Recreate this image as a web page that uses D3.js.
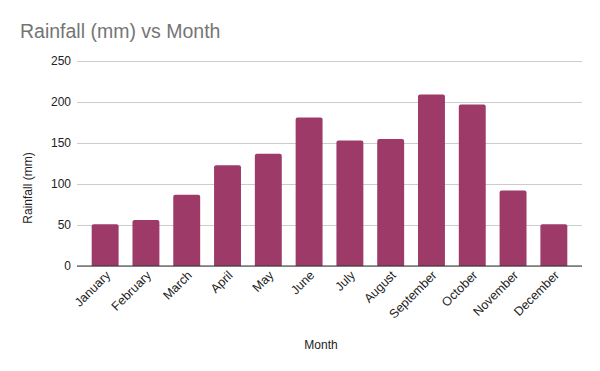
<!DOCTYPE html>
<html lang="en">
<head>
    <meta charset="UTF-8">
    <title>Rainfall (mm) vs Month</title>
    <script src="https://d3js.org/d3.v7.min.js"></script>
    <style>
        html, body {
            margin: 0;
            background: #fff;
            font-family: "Liberation Sans", Arial, sans-serif;
        }
        svg text {
            font-family: "Liberation Sans", Arial, sans-serif;
        }
    </style>
</head>
<body>
    <div id="vis"></div>
    <script>
        // chart data
        var months = ["January", "February", "March", "April", "May", "June",
                      "July", "August", "September", "October", "November", "December"];
        var rainfall = [51, 56, 87, 123, 137, 181, 153, 155, 209, 197, 92, 51];
        var yTicks = [0, 50, 100, 150, 200, 250];

        var width = 600, height = 371;
        var margin = {top: 61, right: 18, bottom: 105, left: 77};

        var svg = d3.select('#vis')
            .append('svg')
                .attr('width', width)
                .attr('height', height);

        var x = d3.scaleBand()
            .domain(months)
            .range([margin.left, width - margin.right])
            .paddingInner(0.34)
            .paddingOuter(0.36);

        var y = d3.scaleLinear()
            .domain([0, 250])
            .range([height - margin.bottom, margin.top]);

        // title
        svg.append('text')
            .attr('x', 20)
            .attr('y', 38)
            .attr('fill', '#757575')
            .style('font-size', '19.5px')
            .text('Rainfall (mm) vs Month');

        // gridlines + y labels
        var yAxis = svg.append('g')
            .attr('transform', 'translate(' + margin.left + ',0)')
            .call(d3.axisLeft(y).tickValues(yTicks).tickSize(-(width - margin.left - margin.right)).tickPadding(6));
        yAxis.select('.domain').remove();
        yAxis.selectAll('.tick line').attr('stroke', '#cccccc');
        yAxis.selectAll('.tick text')
            .attr('fill', '#222')
            .style('font-size', '12px');

        // bars with rounded top corners
        var r = 2;
        svg.selectAll('.bar')
            .data(rainfall)
            .enter()
            .append('path')
            .attr('class', 'bar')
            .attr('fill', '#9e3a68')
            .attr('d', function(d, i) {
                var x0 = x(months[i]), w = x.bandwidth();
                var y0 = y(d), yb = y(0);
                return 'M' + x0 + ',' + yb +
                    'V' + (y0 + r) +
                    'Q' + x0 + ',' + y0 + ' ' + (x0 + r) + ',' + y0 +
                    'H' + (x0 + w - r) +
                    'Q' + (x0 + w) + ',' + y0 + ' ' + (x0 + w) + ',' + (y0 + r) +
                    'V' + yb + 'Z';
            });

        // baseline
        svg.append('line')
            .attr('x1', margin.left)
            .attr('x2', width - margin.right)
            .attr('y1', y(0))
            .attr('y2', y(0))
            .attr('stroke', '#333')
            .attr('stroke-width', 1);

        // month labels
        svg.selectAll('.mlabel')
            .data(months)
            .enter()
            .append('text')
            .attr('class', 'mlabel')
            .attr('transform', function(d) {
                return 'translate(' + (x(d) + x.bandwidth() / 2 + 6) + ',' + (y(0) + 10) + ') rotate(-45)';
            })
            .attr('text-anchor', 'end')
            .attr('fill', '#222')
            .style('font-size', '12.5px')
            .text(function(d) { return d; });

        // axis titles
        svg.append('text')
            .attr('x', 321)
            .attr('y', 349)
            .attr('text-anchor', 'middle')
            .attr('fill', '#222')
            .style('font-size', '12px')
            .text('Month');

        svg.append('text')
            .attr('transform', 'translate(32,188) rotate(-90)')
            .attr('text-anchor', 'middle')
            .attr('fill', '#222')
            .style('font-size', '12px')
            .text('Rainfall (mm)');
    </script>
</body>
</html>
